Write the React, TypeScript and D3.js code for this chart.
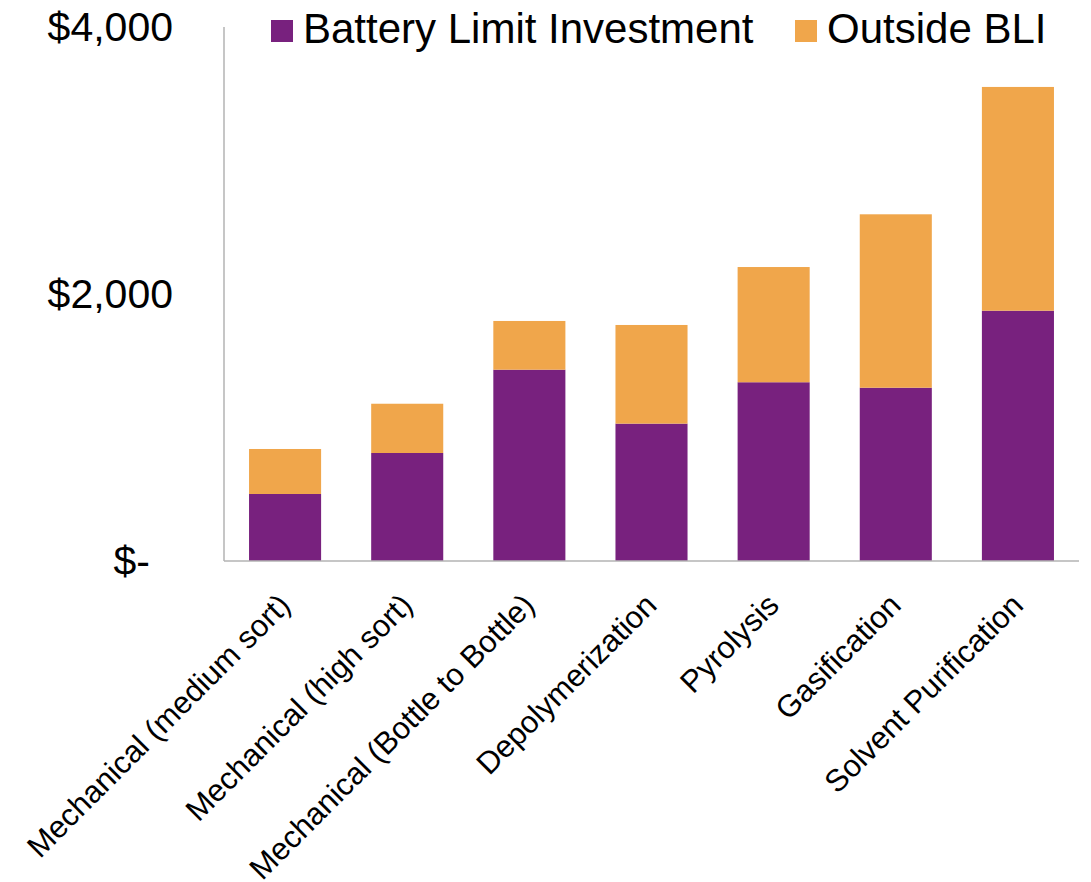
import React from "react";
import * as d3 from "d3";

const categories = [
  "Mechanical (medium sort)",
  "Mechanical (high sort)",
  "Mechanical (Bottle to Bottle)",
  "Depolymerization",
  "Pyrolysis",
  "Gasification",
  "Solvent Purification",
];
const bliValues = [502, 809, 1433, 1029, 1339, 1298, 1875];
const outsideValues = [337, 369, 365, 739, 863, 1299, 1676];
const yTicks = [0, 2000, 4000];
const yTickLabels = ["$-", "$2,000", "$4,000"];
const seriesNames = ["Battery Limit Investment", "Outside BLI"];
const seriesColors = ["#78217E", "#F0A64B"];

const W = 1091;
const H = 882;
const FONT = "Liberation Sans, Arial, sans-serif";

export default function App() {
  const x = d3
    .scaleBand<string>()
    .domain(categories)
    .range([224, 1079])
    .paddingInner(0.41)
    .paddingOuter(0.205);
  const y = d3.scaleLinear().domain([0, 4000]).range([561, 27]);

  const rows = categories.map((c, i) => ({ cat: c, bli: bliValues[i], outside: outsideValues[i] }));
  const stack = d3.stack<any>().keys(["bli", "outside"])(rows);

  return (
    <svg width={W} height={H} style={{ position: "absolute", left: 0, top: 0, fontFamily: FONT }}>
      <rect width={W} height={H} fill="#fff" />
      {stack.map((layer, si) => (
        <g key={si} fill={seriesColors[si]}>
          {layer.map((d, i) => (
            <rect
              key={i}
              x={x(categories[i])}
              width={x.bandwidth()}
              y={y(d[1])}
              height={y(d[0]) - y(d[1])}
            />
          ))}
        </g>
      ))}
      {/* axes */}
      <line x1={224} x2={224} y1={y(4000)} y2={y(0)} stroke="#B3B3B3" strokeWidth={1.5} />
      <line x1={224} x2={1079} y1={y(0)} y2={y(0)} stroke="#B3B3B3" strokeWidth={1.5} />
      {yTicks.map((t, i) => (
        <text
          key={t}
          x={173}
          dx={t === 0 ? -23 : 0}
          y={y(t)}
          dy="0.35em"
          textAnchor="end"
          fontSize={41}
          fill="#000"
        >
          {yTickLabels[i]}
        </text>
      ))}
      {categories.map((c) => {
        const cx = (x(c) as number) + x.bandwidth() / 2;
        return (
          <text
            key={c}
            transform={`translate(${cx + 7},${y(0) + 46}) rotate(-45)`}
            textAnchor="end"
            fontSize={31}
            fill="#000"
          >
            {c}
          </text>
        );
      })}
      {/* legend */}
      {seriesNames.map((s, i) => {
        const lx = i === 0 ? 271 : 795;
        return (
          <g key={s}>
            <rect x={lx} y={20} width={22} height={22} fill={seriesColors[i]} />
            <text x={lx + 32} y={43} fontSize={42} fill="#000">
              {s}
            </text>
          </g>
        );
      })}
    </svg>
  );
}
